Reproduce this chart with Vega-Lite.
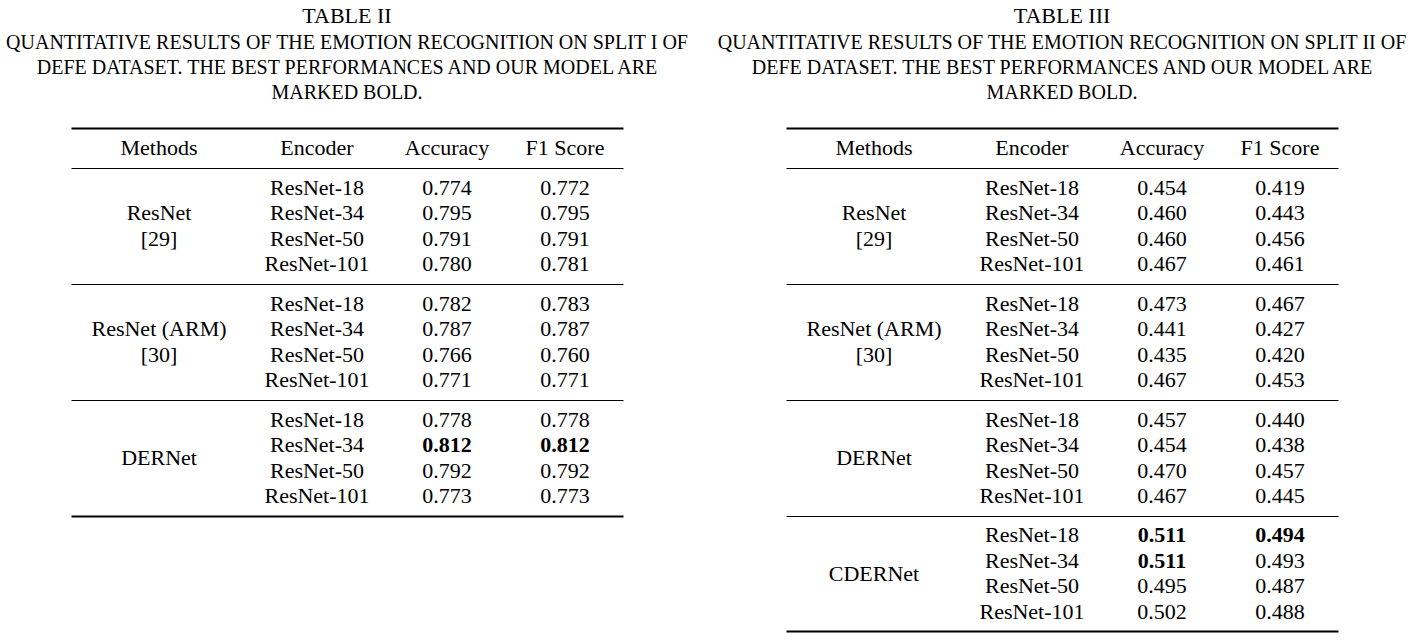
{
  "$schema": "https://vega.github.io/schema/vega-lite/v6.json",
  "padding": 5,
  "datasets": {
    "t2": [
      {"method": "ResNet", "cite": "[29]", "encoder": "ResNet-18", "acc": 0.774, "f1": 0.772},
      {"method": "ResNet", "cite": "[29]", "encoder": "ResNet-34", "acc": 0.795, "f1": 0.795},
      {"method": "ResNet", "cite": "[29]", "encoder": "ResNet-50", "acc": 0.791, "f1": 0.791},
      {"method": "ResNet", "cite": "[29]", "encoder": "ResNet-101", "acc": 0.780, "f1": 0.781},
      {"method": "ResNet (ARM)", "cite": "[30]", "encoder": "ResNet-18", "acc": 0.782, "f1": 0.783},
      {"method": "ResNet (ARM)", "cite": "[30]", "encoder": "ResNet-34", "acc": 0.787, "f1": 0.787},
      {"method": "ResNet (ARM)", "cite": "[30]", "encoder": "ResNet-50", "acc": 0.766, "f1": 0.760},
      {"method": "ResNet (ARM)", "cite": "[30]", "encoder": "ResNet-101", "acc": 0.771, "f1": 0.771},
      {"method": "DERNet", "cite": "", "encoder": "ResNet-18", "acc": 0.778, "f1": 0.778},
      {"method": "DERNet", "cite": "", "encoder": "ResNet-34", "acc": 0.812, "f1": 0.812},
      {"method": "DERNet", "cite": "", "encoder": "ResNet-50", "acc": 0.792, "f1": 0.792},
      {"method": "DERNet", "cite": "", "encoder": "ResNet-101", "acc": 0.773, "f1": 0.773}
    ],
    "t3": [
      {"method": "ResNet", "cite": "[29]", "encoder": "ResNet-18", "acc": 0.454, "f1": 0.419},
      {"method": "ResNet", "cite": "[29]", "encoder": "ResNet-34", "acc": 0.460, "f1": 0.443},
      {"method": "ResNet", "cite": "[29]", "encoder": "ResNet-50", "acc": 0.460, "f1": 0.456},
      {"method": "ResNet", "cite": "[29]", "encoder": "ResNet-101", "acc": 0.467, "f1": 0.461},
      {"method": "ResNet (ARM)", "cite": "[30]", "encoder": "ResNet-18", "acc": 0.473, "f1": 0.467},
      {"method": "ResNet (ARM)", "cite": "[30]", "encoder": "ResNet-34", "acc": 0.441, "f1": 0.427},
      {"method": "ResNet (ARM)", "cite": "[30]", "encoder": "ResNet-50", "acc": 0.435, "f1": 0.420},
      {"method": "ResNet (ARM)", "cite": "[30]", "encoder": "ResNet-101", "acc": 0.467, "f1": 0.453},
      {"method": "DERNet", "cite": "", "encoder": "ResNet-18", "acc": 0.457, "f1": 0.440},
      {"method": "DERNet", "cite": "", "encoder": "ResNet-34", "acc": 0.454, "f1": 0.438},
      {"method": "DERNet", "cite": "", "encoder": "ResNet-50", "acc": 0.470, "f1": 0.457},
      {"method": "DERNet", "cite": "", "encoder": "ResNet-101", "acc": 0.467, "f1": 0.445},
      {"method": "CDERNet", "cite": "", "encoder": "ResNet-18", "acc": 0.511, "f1": 0.494},
      {"method": "CDERNet", "cite": "", "encoder": "ResNet-34", "acc": 0.511, "f1": 0.493},
      {"method": "CDERNet", "cite": "", "encoder": "ResNet-50", "acc": 0.495, "f1": 0.487},
      {"method": "CDERNet", "cite": "", "encoder": "ResNet-101", "acc": 0.502, "f1": 0.488}
    ],
    "cols": [
      {"col": "Methods", "i": 0},
      {"col": "Encoder", "i": 1},
      {"col": "Accuracy", "i": 2},
      {"col": "F1 Score", "i": 3}
    ]
  },
  "spacing": 28,
  "hconcat": [
    {
      "title": {"text": "TABLE II", "subtitle": ["QUANTITATIVE RESULTS OF THE EMOTION RECOGNITION ON SPLIT I OF", "DEFE DATASET. THE BEST PERFORMANCES AND OUR MODEL ARE", "MARKED BOLD."]},
      "spacing": 0,
      "bounds": "flush",
      "vconcat": [
        {
          "width": 552, "height": 40,
          "data": {"name": "cols"},
          "mark": "text",
          "encoding": {
            "x": {"field": "i", "type": "quantitative", "scale": {"domain": [-1, 0, 1, 2, 3, 4], "range": [0, 88, 246, 376, 494, 552], "nice": false, "zero": false}, "axis": {"orient": "top", "labels": false, "ticks": false, "grid": false, "title": null, "domainColor": "black", "domainWidth": 2}},
            "text": {"field": "col", "type": "nominal"}
          }
        },
        {
          "width": 552, "height": 116,
          "data": {"name": "t2"},
          "transform": [
            {"joinaggregate": [{"op": "max", "field": "acc", "as": "acc_max"}, {"op": "max", "field": "f1", "as": "f1_max"}]},
            {"filter": {"field": "method", "equal": "ResNet"}}
          ],
          "layer": [
            {"transform": [{"aggregate": [{"op": "count", "as": "n"}], "groupby": ["method", "cite"]}], "mark": {"type": "text", "dy": -12.75},
             "encoding": {"x": {"datum": 0, "type": "quantitative", "scale": {"domain": [-1, 0, 1, 2, 3, 4], "range": [0, 88, 246, 376, 494, 552], "nice": false, "zero": false}, "axis": {"orient": "top", "labels": false, "ticks": false, "grid": false, "title": null, "domainColor": "black", "domainWidth": 1.2}}, "text": {"field": "method", "type": "nominal"}}},
            {"transform": [{"aggregate": [{"op": "count", "as": "n"}], "groupby": ["method", "cite"]}], "mark": {"type": "text", "dy": 12.75},
             "encoding": {"x": {"datum": 0, "type": "quantitative"}, "text": {"field": "cite", "type": "nominal"}}},
            {"mark": "text", "encoding": {"x": {"datum": 1, "type": "quantitative"}, "y": {"field": "encoder", "type": "nominal", "scale": {"type": "point", "domain": ["ResNet-18", "ResNet-34", "ResNet-50", "ResNet-101"], "padding": 0.76}, "axis": null}, "text": {"field": "encoder", "type": "nominal"}}},
            {"transform": [{"filter": "datum.acc < datum.acc_max"}], "mark": "text", "encoding": {"x": {"datum": 2, "type": "quantitative"}, "y": {"field": "encoder", "type": "nominal"}, "text": {"field": "acc", "type": "quantitative", "format": ".3f"}}},
            {"transform": [{"filter": "datum.acc === datum.acc_max"}], "mark": {"type": "text", "fontWeight": "bold"}, "encoding": {"x": {"datum": 2, "type": "quantitative"}, "y": {"field": "encoder", "type": "nominal"}, "text": {"field": "acc", "type": "quantitative", "format": ".3f"}}},
            {"transform": [{"filter": "datum.f1 < datum.f1_max"}], "mark": "text", "encoding": {"x": {"datum": 3, "type": "quantitative"}, "y": {"field": "encoder", "type": "nominal"}, "text": {"field": "f1", "type": "quantitative", "format": ".3f"}}},
            {"transform": [{"filter": "datum.f1 === datum.f1_max"}], "mark": {"type": "text", "fontWeight": "bold"}, "encoding": {"x": {"datum": 3, "type": "quantitative"}, "y": {"field": "encoder", "type": "nominal"}, "text": {"field": "f1", "type": "quantitative", "format": ".3f"}}}
          ]
        },
        {
          "width": 552, "height": 116,
          "data": {"name": "t2"},
          "transform": [
            {"joinaggregate": [{"op": "max", "field": "acc", "as": "acc_max"}, {"op": "max", "field": "f1", "as": "f1_max"}]},
            {"filter": {"field": "method", "equal": "ResNet (ARM)"}}
          ],
          "layer": [
            {"transform": [{"aggregate": [{"op": "count", "as": "n"}], "groupby": ["method", "cite"]}], "mark": {"type": "text", "dy": -12.75},
             "encoding": {"x": {"datum": 0, "type": "quantitative", "scale": {"domain": [-1, 0, 1, 2, 3, 4], "range": [0, 88, 246, 376, 494, 552], "nice": false, "zero": false}, "axis": {"orient": "top", "labels": false, "ticks": false, "grid": false, "title": null, "domainColor": "black", "domainWidth": 1.2}}, "text": {"field": "method", "type": "nominal"}}},
            {"transform": [{"aggregate": [{"op": "count", "as": "n"}], "groupby": ["method", "cite"]}], "mark": {"type": "text", "dy": 12.75},
             "encoding": {"x": {"datum": 0, "type": "quantitative"}, "text": {"field": "cite", "type": "nominal"}}},
            {"mark": "text", "encoding": {"x": {"datum": 1, "type": "quantitative"}, "y": {"field": "encoder", "type": "nominal", "scale": {"type": "point", "domain": ["ResNet-18", "ResNet-34", "ResNet-50", "ResNet-101"], "padding": 0.76}, "axis": null}, "text": {"field": "encoder", "type": "nominal"}}},
            {"transform": [{"filter": "datum.acc < datum.acc_max"}], "mark": "text", "encoding": {"x": {"datum": 2, "type": "quantitative"}, "y": {"field": "encoder", "type": "nominal"}, "text": {"field": "acc", "type": "quantitative", "format": ".3f"}}},
            {"transform": [{"filter": "datum.acc === datum.acc_max"}], "mark": {"type": "text", "fontWeight": "bold"}, "encoding": {"x": {"datum": 2, "type": "quantitative"}, "y": {"field": "encoder", "type": "nominal"}, "text": {"field": "acc", "type": "quantitative", "format": ".3f"}}},
            {"transform": [{"filter": "datum.f1 < datum.f1_max"}], "mark": "text", "encoding": {"x": {"datum": 3, "type": "quantitative"}, "y": {"field": "encoder", "type": "nominal"}, "text": {"field": "f1", "type": "quantitative", "format": ".3f"}}},
            {"transform": [{"filter": "datum.f1 === datum.f1_max"}], "mark": {"type": "text", "fontWeight": "bold"}, "encoding": {"x": {"datum": 3, "type": "quantitative"}, "y": {"field": "encoder", "type": "nominal"}, "text": {"field": "f1", "type": "quantitative", "format": ".3f"}}}
          ]
        },
        {
          "width": 552, "height": 116,
          "data": {"name": "t2"},
          "transform": [
            {"joinaggregate": [{"op": "max", "field": "acc", "as": "acc_max"}, {"op": "max", "field": "f1", "as": "f1_max"}]},
            {"filter": {"field": "method", "equal": "DERNet"}}
          ],
          "resolve": {"scale": {"x": "independent"}, "axis": {"x": "independent"}},
          "layer": [
            {"transform": [{"aggregate": [{"op": "count", "as": "n"}], "groupby": ["method", "cite"]}], "mark": "text",
             "encoding": {"x": {"datum": 0, "type": "quantitative", "scale": {"domain": [-1, 0, 1, 2, 3, 4], "range": [0, 88, 246, 376, 494, 552], "nice": false, "zero": false}, "axis": {"orient": "top", "labels": false, "ticks": false, "grid": false, "title": null, "domainColor": "black", "domainWidth": 1.2}}, "text": {"field": "method", "type": "nominal"}}},
            {"mark": "text", "encoding": {"x": {"datum": 1, "type": "quantitative", "scale": {"domain": [-1, 0, 1, 2, 3, 4], "range": [0, 88, 246, 376, 494, 552], "nice": false, "zero": false}, "axis": {"orient": "bottom", "labels": false, "ticks": false, "grid": false, "title": null, "domainColor": "black", "domainWidth": 2}}, "y": {"field": "encoder", "type": "nominal", "scale": {"type": "point", "domain": ["ResNet-18", "ResNet-34", "ResNet-50", "ResNet-101"], "padding": 0.76}, "axis": null}, "text": {"field": "encoder", "type": "nominal"}}},
            {"transform": [{"filter": "datum.acc < datum.acc_max"}], "mark": "text", "encoding": {"x": {"datum": 2, "type": "quantitative", "scale": {"domain": [-1, 0, 1, 2, 3, 4], "range": [0, 88, 246, 376, 494, 552], "nice": false, "zero": false}, "axis": null}, "y": {"field": "encoder", "type": "nominal"}, "text": {"field": "acc", "type": "quantitative", "format": ".3f"}}},
            {"transform": [{"filter": "datum.acc === datum.acc_max"}], "mark": {"type": "text", "fontWeight": "bold"}, "encoding": {"x": {"datum": 2, "type": "quantitative", "scale": {"domain": [-1, 0, 1, 2, 3, 4], "range": [0, 88, 246, 376, 494, 552], "nice": false, "zero": false}, "axis": null}, "y": {"field": "encoder", "type": "nominal"}, "text": {"field": "acc", "type": "quantitative", "format": ".3f"}}},
            {"transform": [{"filter": "datum.f1 < datum.f1_max"}], "mark": "text", "encoding": {"x": {"datum": 3, "type": "quantitative", "scale": {"domain": [-1, 0, 1, 2, 3, 4], "range": [0, 88, 246, 376, 494, 552], "nice": false, "zero": false}, "axis": null}, "y": {"field": "encoder", "type": "nominal"}, "text": {"field": "f1", "type": "quantitative", "format": ".3f"}}},
            {"transform": [{"filter": "datum.f1 === datum.f1_max"}], "mark": {"type": "text", "fontWeight": "bold"}, "encoding": {"x": {"datum": 3, "type": "quantitative", "scale": {"domain": [-1, 0, 1, 2, 3, 4], "range": [0, 88, 246, 376, 494, 552], "nice": false, "zero": false}, "axis": null}, "y": {"field": "encoder", "type": "nominal"}, "text": {"field": "f1", "type": "quantitative", "format": ".3f"}}}
          ]
        }
      ]
    },
    {
      "title": {"text": "TABLE III", "subtitle": ["QUANTITATIVE RESULTS OF THE EMOTION RECOGNITION ON SPLIT II OF", "DEFE DATASET. THE BEST PERFORMANCES AND OUR MODEL ARE", "MARKED BOLD."]},
      "spacing": 0,
      "bounds": "flush",
      "vconcat": [
        {
          "width": 552, "height": 40,
          "data": {"name": "cols"},
          "mark": "text",
          "encoding": {
            "x": {"field": "i", "type": "quantitative", "scale": {"domain": [-1, 0, 1, 2, 3, 4], "range": [0, 88, 246, 376, 494, 552], "nice": false, "zero": false}, "axis": {"orient": "top", "labels": false, "ticks": false, "grid": false, "title": null, "domainColor": "black", "domainWidth": 2}},
            "text": {"field": "col", "type": "nominal"}
          }
        },
        {
          "width": 552, "height": 116,
          "data": {"name": "t3"},
          "transform": [
            {"joinaggregate": [{"op": "max", "field": "acc", "as": "acc_max"}, {"op": "max", "field": "f1", "as": "f1_max"}]},
            {"filter": {"field": "method", "equal": "ResNet"}}
          ],
          "layer": [
            {"transform": [{"aggregate": [{"op": "count", "as": "n"}], "groupby": ["method", "cite"]}], "mark": {"type": "text", "dy": -12.75},
             "encoding": {"x": {"datum": 0, "type": "quantitative", "scale": {"domain": [-1, 0, 1, 2, 3, 4], "range": [0, 88, 246, 376, 494, 552], "nice": false, "zero": false}, "axis": {"orient": "top", "labels": false, "ticks": false, "grid": false, "title": null, "domainColor": "black", "domainWidth": 1.2}}, "text": {"field": "method", "type": "nominal"}}},
            {"transform": [{"aggregate": [{"op": "count", "as": "n"}], "groupby": ["method", "cite"]}], "mark": {"type": "text", "dy": 12.75},
             "encoding": {"x": {"datum": 0, "type": "quantitative"}, "text": {"field": "cite", "type": "nominal"}}},
            {"mark": "text", "encoding": {"x": {"datum": 1, "type": "quantitative"}, "y": {"field": "encoder", "type": "nominal", "scale": {"type": "point", "domain": ["ResNet-18", "ResNet-34", "ResNet-50", "ResNet-101"], "padding": 0.76}, "axis": null}, "text": {"field": "encoder", "type": "nominal"}}},
            {"transform": [{"filter": "datum.acc < datum.acc_max"}], "mark": "text", "encoding": {"x": {"datum": 2, "type": "quantitative"}, "y": {"field": "encoder", "type": "nominal"}, "text": {"field": "acc", "type": "quantitative", "format": ".3f"}}},
            {"transform": [{"filter": "datum.acc === datum.acc_max"}], "mark": {"type": "text", "fontWeight": "bold"}, "encoding": {"x": {"datum": 2, "type": "quantitative"}, "y": {"field": "encoder", "type": "nominal"}, "text": {"field": "acc", "type": "quantitative", "format": ".3f"}}},
            {"transform": [{"filter": "datum.f1 < datum.f1_max"}], "mark": "text", "encoding": {"x": {"datum": 3, "type": "quantitative"}, "y": {"field": "encoder", "type": "nominal"}, "text": {"field": "f1", "type": "quantitative", "format": ".3f"}}},
            {"transform": [{"filter": "datum.f1 === datum.f1_max"}], "mark": {"type": "text", "fontWeight": "bold"}, "encoding": {"x": {"datum": 3, "type": "quantitative"}, "y": {"field": "encoder", "type": "nominal"}, "text": {"field": "f1", "type": "quantitative", "format": ".3f"}}}
          ]
        },
        {
          "width": 552, "height": 116,
          "data": {"name": "t3"},
          "transform": [
            {"joinaggregate": [{"op": "max", "field": "acc", "as": "acc_max"}, {"op": "max", "field": "f1", "as": "f1_max"}]},
            {"filter": {"field": "method", "equal": "ResNet (ARM)"}}
          ],
          "layer": [
            {"transform": [{"aggregate": [{"op": "count", "as": "n"}], "groupby": ["method", "cite"]}], "mark": {"type": "text", "dy": -12.75},
             "encoding": {"x": {"datum": 0, "type": "quantitative", "scale": {"domain": [-1, 0, 1, 2, 3, 4], "range": [0, 88, 246, 376, 494, 552], "nice": false, "zero": false}, "axis": {"orient": "top", "labels": false, "ticks": false, "grid": false, "title": null, "domainColor": "black", "domainWidth": 1.2}}, "text": {"field": "method", "type": "nominal"}}},
            {"transform": [{"aggregate": [{"op": "count", "as": "n"}], "groupby": ["method", "cite"]}], "mark": {"type": "text", "dy": 12.75},
             "encoding": {"x": {"datum": 0, "type": "quantitative"}, "text": {"field": "cite", "type": "nominal"}}},
            {"mark": "text", "encoding": {"x": {"datum": 1, "type": "quantitative"}, "y": {"field": "encoder", "type": "nominal", "scale": {"type": "point", "domain": ["ResNet-18", "ResNet-34", "ResNet-50", "ResNet-101"], "padding": 0.76}, "axis": null}, "text": {"field": "encoder", "type": "nominal"}}},
            {"transform": [{"filter": "datum.acc < datum.acc_max"}], "mark": "text", "encoding": {"x": {"datum": 2, "type": "quantitative"}, "y": {"field": "encoder", "type": "nominal"}, "text": {"field": "acc", "type": "quantitative", "format": ".3f"}}},
            {"transform": [{"filter": "datum.acc === datum.acc_max"}], "mark": {"type": "text", "fontWeight": "bold"}, "encoding": {"x": {"datum": 2, "type": "quantitative"}, "y": {"field": "encoder", "type": "nominal"}, "text": {"field": "acc", "type": "quantitative", "format": ".3f"}}},
            {"transform": [{"filter": "datum.f1 < datum.f1_max"}], "mark": "text", "encoding": {"x": {"datum": 3, "type": "quantitative"}, "y": {"field": "encoder", "type": "nominal"}, "text": {"field": "f1", "type": "quantitative", "format": ".3f"}}},
            {"transform": [{"filter": "datum.f1 === datum.f1_max"}], "mark": {"type": "text", "fontWeight": "bold"}, "encoding": {"x": {"datum": 3, "type": "quantitative"}, "y": {"field": "encoder", "type": "nominal"}, "text": {"field": "f1", "type": "quantitative", "format": ".3f"}}}
          ]
        },
        {
          "width": 552, "height": 116,
          "data": {"name": "t3"},
          "transform": [
            {"joinaggregate": [{"op": "max", "field": "acc", "as": "acc_max"}, {"op": "max", "field": "f1", "as": "f1_max"}]},
            {"filter": {"field": "method", "equal": "DERNet"}}
          ],
          "layer": [
            {"transform": [{"aggregate": [{"op": "count", "as": "n"}], "groupby": ["method", "cite"]}], "mark": "text",
             "encoding": {"x": {"datum": 0, "type": "quantitative", "scale": {"domain": [-1, 0, 1, 2, 3, 4], "range": [0, 88, 246, 376, 494, 552], "nice": false, "zero": false}, "axis": {"orient": "top", "labels": false, "ticks": false, "grid": false, "title": null, "domainColor": "black", "domainWidth": 1.2}}, "text": {"field": "method", "type": "nominal"}}},
            {"mark": "text", "encoding": {"x": {"datum": 1, "type": "quantitative"}, "y": {"field": "encoder", "type": "nominal", "scale": {"type": "point", "domain": ["ResNet-18", "ResNet-34", "ResNet-50", "ResNet-101"], "padding": 0.76}, "axis": null}, "text": {"field": "encoder", "type": "nominal"}}},
            {"transform": [{"filter": "datum.acc < datum.acc_max"}], "mark": "text", "encoding": {"x": {"datum": 2, "type": "quantitative"}, "y": {"field": "encoder", "type": "nominal"}, "text": {"field": "acc", "type": "quantitative", "format": ".3f"}}},
            {"transform": [{"filter": "datum.acc === datum.acc_max"}], "mark": {"type": "text", "fontWeight": "bold"}, "encoding": {"x": {"datum": 2, "type": "quantitative"}, "y": {"field": "encoder", "type": "nominal"}, "text": {"field": "acc", "type": "quantitative", "format": ".3f"}}},
            {"transform": [{"filter": "datum.f1 < datum.f1_max"}], "mark": "text", "encoding": {"x": {"datum": 3, "type": "quantitative"}, "y": {"field": "encoder", "type": "nominal"}, "text": {"field": "f1", "type": "quantitative", "format": ".3f"}}},
            {"transform": [{"filter": "datum.f1 === datum.f1_max"}], "mark": {"type": "text", "fontWeight": "bold"}, "encoding": {"x": {"datum": 3, "type": "quantitative"}, "y": {"field": "encoder", "type": "nominal"}, "text": {"field": "f1", "type": "quantitative", "format": ".3f"}}}
          ]
        },
        {
          "width": 552, "height": 115,
          "data": {"name": "t3"},
          "transform": [
            {"joinaggregate": [{"op": "max", "field": "acc", "as": "acc_max"}, {"op": "max", "field": "f1", "as": "f1_max"}]},
            {"filter": {"field": "method", "equal": "CDERNet"}}
          ],
          "resolve": {"scale": {"x": "independent"}, "axis": {"x": "independent"}},
          "layer": [
            {"transform": [{"aggregate": [{"op": "count", "as": "n"}], "groupby": ["method", "cite"]}], "mark": "text",
             "encoding": {"x": {"datum": 0, "type": "quantitative", "scale": {"domain": [-1, 0, 1, 2, 3, 4], "range": [0, 88, 246, 376, 494, 552], "nice": false, "zero": false}, "axis": {"orient": "top", "labels": false, "ticks": false, "grid": false, "title": null, "domainColor": "black", "domainWidth": 1.2}}, "text": {"field": "method", "type": "nominal"}}},
            {"mark": "text", "encoding": {"x": {"datum": 1, "type": "quantitative", "scale": {"domain": [-1, 0, 1, 2, 3, 4], "range": [0, 88, 246, 376, 494, 552], "nice": false, "zero": false}, "axis": {"orient": "bottom", "labels": false, "ticks": false, "grid": false, "title": null, "domainColor": "black", "domainWidth": 2}}, "y": {"field": "encoder", "type": "nominal", "scale": {"type": "point", "domain": ["ResNet-18", "ResNet-34", "ResNet-50", "ResNet-101"], "padding": 0.76}, "axis": null}, "text": {"field": "encoder", "type": "nominal"}}},
            {"transform": [{"filter": "datum.acc < datum.acc_max"}], "mark": "text", "encoding": {"x": {"datum": 2, "type": "quantitative", "scale": {"domain": [-1, 0, 1, 2, 3, 4], "range": [0, 88, 246, 376, 494, 552], "nice": false, "zero": false}, "axis": null}, "y": {"field": "encoder", "type": "nominal"}, "text": {"field": "acc", "type": "quantitative", "format": ".3f"}}},
            {"transform": [{"filter": "datum.acc === datum.acc_max"}], "mark": {"type": "text", "fontWeight": "bold"}, "encoding": {"x": {"datum": 2, "type": "quantitative", "scale": {"domain": [-1, 0, 1, 2, 3, 4], "range": [0, 88, 246, 376, 494, 552], "nice": false, "zero": false}, "axis": null}, "y": {"field": "encoder", "type": "nominal"}, "text": {"field": "acc", "type": "quantitative", "format": ".3f"}}},
            {"transform": [{"filter": "datum.f1 < datum.f1_max"}], "mark": "text", "encoding": {"x": {"datum": 3, "type": "quantitative", "scale": {"domain": [-1, 0, 1, 2, 3, 4], "range": [0, 88, 246, 376, 494, 552], "nice": false, "zero": false}, "axis": null}, "y": {"field": "encoder", "type": "nominal"}, "text": {"field": "f1", "type": "quantitative", "format": ".3f"}}},
            {"transform": [{"filter": "datum.f1 === datum.f1_max"}], "mark": {"type": "text", "fontWeight": "bold"}, "encoding": {"x": {"datum": 3, "type": "quantitative", "scale": {"domain": [-1, 0, 1, 2, 3, 4], "range": [0, 88, 246, 376, 494, 552], "nice": false, "zero": false}, "axis": null}, "y": {"field": "encoder", "type": "nominal"}, "text": {"field": "f1", "type": "quantitative", "format": ".3f"}}}
          ]
        }
      ]
    }
  ],
  "config": {
    "view": {"stroke": null},
    "background": "white",
    "title": {"font": "Liberation Serif", "fontSize": 22, "fontWeight": "normal", "color": "black", "subtitleFont": "Liberation Serif", "subtitleFontSize": 20, "subtitleColor": "black", "subtitleLineHeight": 25, "subtitlePadding": 5, "anchor": "middle", "offset": 24},
    "text": {"font": "Liberation Serif", "fontSize": 22, "fill": "black", "baseline": "middle", "align": "center"}
  }
}
